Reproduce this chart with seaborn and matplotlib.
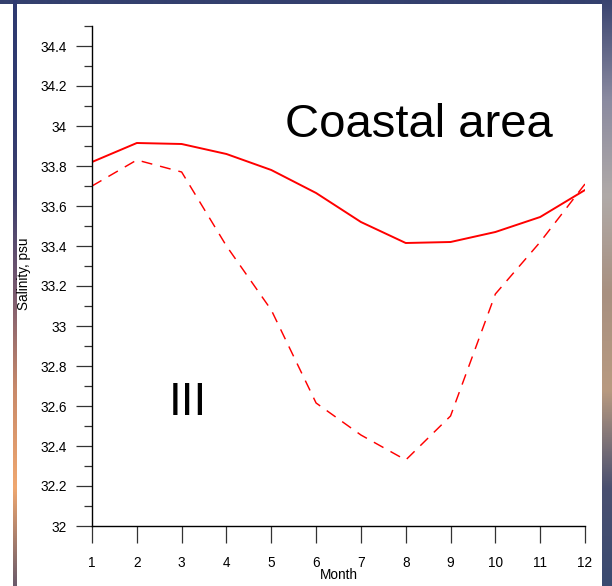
import numpy as np
import pandas as pd
import matplotlib
matplotlib.use("Agg")
import matplotlib.pyplot as plt
from matplotlib.ticker import MultipleLocator, FuncFormatter
import seaborn as sns

months = list(range(1, 13))
surface_salinity = [33.82, 33.915, 33.91, 33.86, 33.78, 33.665, 33.52, 33.415, 33.42, 33.47, 33.545, 33.68]
bottom_salinity = [33.70, 33.83, 33.77, 33.40, 33.08, 32.615, 32.455, 32.33, 32.55, 33.16, 33.42, 33.71]
series_names = ["solid", "dashed"]
y_ticks = [32, 32.2, 32.4, 32.6, 32.8, 33, 33.2, 33.4, 33.6, 33.8, 34, 34.2, 34.4]
x_label = "Month"
y_label = "Salinity, psu"
title_text = "Coastal area"
panel_text = "III"

df = pd.DataFrame({
    "Month": months * 2,
    "Salinity": surface_salinity + bottom_salinity,
    "series": [series_names[0]] * 12 + [series_names[1]] * 12,
})

sns.set_style("ticks")
plt.rcParams["font.family"] = ["Liberation Sans", "DejaVu Sans"]
plt.rcParams["text.color"] = "black"
plt.rcParams["axes.labelcolor"] = "black"
plt.rcParams["xtick.color"] = "black"
plt.rcParams["ytick.color"] = "black"

W, H = 612, 586
fig = plt.figure(figsize=(W / 100, H / 100), dpi=100)
fig.patch.set_facecolor("white")

# decorative slide background strips
def strip(x0, y0, w, h, colors):
    a = fig.add_axes([x0 / W, 1 - (y0 + h) / H, w / W, h / H])
    cmap = matplotlib.colors.LinearSegmentedColormap.from_list("g", colors)
    grad = np.linspace(0, 1, 256).reshape(-1, 1)
    a.imshow(grad, aspect="auto", cmap=cmap, extent=[0, 1, 0, 1], origin="upper")
    a.set_axis_off()

strip(0, 0, W, 4, ["#34406e", "#34406e"])
strip(13, 0, 4, H, ["#2f3a70", "#2f3a70", "#3c3f6e", "#7a5a70", "#c98a6a", "#f0a870", "#6a5a6a"])
strip(602, 0, 10, H, ["#3a4470", "#8a8aa0", "#b0aaa8", "#a89080", "#b89a80", "#4a5070", "#3a4a70"])

ax = fig.add_axes([92 / W, 1 - 526 / H, 493 / W, 500 / H])
ax.set_facecolor("white")

sns.lineplot(
    data=df, x="Month", y="Salinity", style="series", ax=ax,
    color="#ff0000", dashes={"solid": "", "dashed": (7.5, 5.5)},
    linewidth=1.05, legend=False,
)
for line in ax.get_lines():
    if line.get_linestyle() == "-":
        line.set_linewidth(1.4)

ax.set_xlim(1, 12)
ax.set_ylim(32, 34.5)
ax.set_xticks(months)
ax.set_yticks(y_ticks)
ax.yaxis.set_minor_locator(MultipleLocator(0.1))
ax.yaxis.set_major_formatter(FuncFormatter(lambda v, p: f"{v:g}"))

for s in ["top", "right"]:
    ax.spines[s].set_visible(False)
for s in ["left", "bottom"]:
    ax.spines[s].set_linewidth(1.0)
    ax.spines[s].set_color("black")

ax.tick_params(axis="y", which="major", length=11.5, width=0.9, color="#333333",
               labelcolor="black", direction="out", labelsize=9.8, pad=6.5)
ax.tick_params(axis="y", which="minor", length=5.8, width=0.9, color="#333333", direction="out")
ax.tick_params(axis="x", which="major", length=12, width=0.9, color="#333333",
               labelcolor="black", direction="out", labelsize=9.8, pad=9.5)

ax.set_xlabel(x_label, fontsize=9.8, labelpad=-1.5, color="black")
ax.set_ylabel(y_label, fontsize=9.8, color="black")
ax.yaxis.set_label_coords((31 - 92) / 493, (526 - 273.5) / 500)

ax.text((419 - 92) / 493 * 11 + 1, 33.945, title_text, fontsize=34,
        ha="center", va="baseline", color="black")
ax.text((187.5 - 92) / 493 * 11 + 1, 32.555, panel_text, fontsize=33,
        ha="center", va="baseline", color="black")

fig.savefig("out.png", dpi=100, facecolor="white")
